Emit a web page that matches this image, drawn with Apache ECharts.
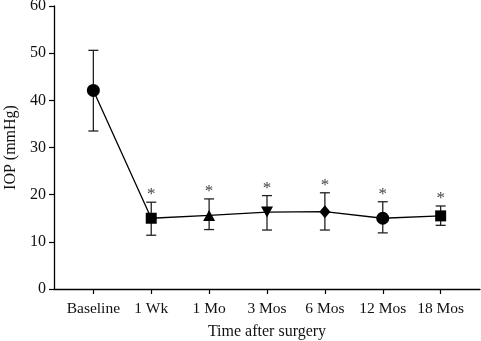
<!DOCTYPE html>
<html>
<head>
<meta charset="utf-8">
<script src="https://cdn.jsdelivr.net/npm/echarts@6/dist/echarts.min.js"></script>
<style>
  html, body { margin: 0; padding: 0; background: #fff; }
  #chart { width: 481px; height: 341px; }
</style>
</head>
<body>
<div id="chart"></div>
<script>
// 时间点
const times = ['Baseline', '1 Wk', '1 Mo', '3 Mos', '6 Mos', '12 Mos', '18 Mos']
// 平均眼压及误差
const means = [42.1, 15.0, 15.6, 16.3, 16.4, 15.0, 15.5]
const upper = [50.6, 18.4, 19.1, 19.8, 20.4, 18.5, 17.6]
const lower = [33.5, 11.4, 12.6, 12.5, 12.5, 11.9, 13.5]
const marks = ['', '*', '*', '*', '*', '*', '*']
const symbols = ['circle', 'rect', 'triangle', 'triangle', 'diamond', 'circle', 'rect']

const font = '"Liberation Serif", "DejaVu Serif", serif'
const idx = times.map((t, i) => i)

const option = {
  animation: false,
  grid: { left: 54, right: 1, top: 6, bottom: 52, outerBoundsMode: 'none' },
  xAxis: {
    type: 'value',
    min: -0.68,
    max: 6.68,
    name: 'Time after surgery',
    nameLocation: 'middle',
    nameGap: 35,
    nameTextStyle: { fontFamily: font, fontSize: 16, color: '#111' },
    splitLine: { show: false },
    axisLine: { onZero: false, lineStyle: { color: '#000', width: 1.3 } },
    axisTick: { show: true, length: 5, customValues: idx, lineStyle: { color: '#000', width: 1.2 } },
    axisLabel: {
      customValues: idx,
      margin: 12,
      fontFamily: font,
      fontSize: 15.5,
      color: '#111',
      formatter: (v) => times[Math.round(v)],
    },
  },
  yAxis: {
    type: 'value',
    min: 0,
    max: 60,
    interval: 10,
    name: 'IOP (mmHg)',
    nameLocation: 'middle',
    nameGap: 28,
    nameTextStyle: { fontFamily: font, fontSize: 16, color: '#111' },
    splitLine: { show: false },
    axisLine: { show: true, onZero: false, lineStyle: { color: '#000', width: 1.3 } },
    axisTick: { show: true, length: 5, lineStyle: { color: '#000', width: 1.2 } },
    axisLabel: { margin: 8, fontFamily: font, fontSize: 16, color: '#111' },
  },
  series: [
    {
      // 误差线 + 星号
      type: 'custom',
      z: 1,
      data: idx.map((i) => [i, lower[i], upper[i]]),
      renderItem: function (params, api) {
        const lo = api.coord([api.value(0), api.value(1)])
        const hi = api.coord([api.value(0), api.value(2)])
        const w = 5
        const style = { stroke: '#222', lineWidth: 1.3 }
        const children = [
          { type: 'line', shape: { x1: hi[0], y1: hi[1], x2: lo[0], y2: lo[1] }, style },
          { type: 'line', shape: { x1: hi[0] - w, y1: hi[1], x2: hi[0] + w, y2: hi[1] }, style },
          { type: 'line', shape: { x1: lo[0] - w, y1: lo[1], x2: lo[0] + w, y2: lo[1] }, style },
        ]
        const m = marks[params.dataIndex]
        if (m) {
          children.push({
            type: 'text',
            style: {
              text: m,
              x: hi[0],
              y: hi[1] + 1,
              align: 'center',
              verticalAlign: 'bottom',
              fontFamily: font,
              fontSize: 17,
              fill: '#444',
            },
          })
        }
        return { type: 'group', children }
      },
    },
    {
      type: 'line',
      z: 2,
      lineStyle: { color: '#000', width: 1.3 },
      itemStyle: { color: '#000' },
      data: idx.map((i) => ({
        value: [i, means[i]],
        symbol: symbols[i],
        symbolSize: symbols[i] === 'diamond' ? [11, 13] : symbols[i] === 'triangle' ? [12, 11] : symbols[i] === 'rect' ? 11 : 13,
        symbolRotate: i === 3 ? 180 : 0,
      })),
    },
  ],
}
echarts.init(document.getElementById('chart')).setOption(option)
</script>
</body>
</html>
